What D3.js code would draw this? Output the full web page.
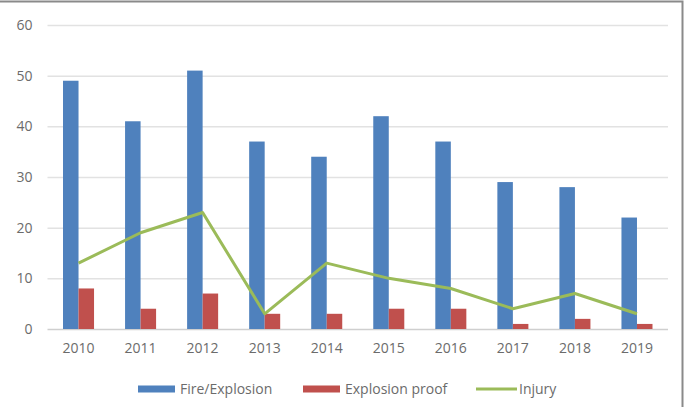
<!DOCTYPE html>
<html>
<head>
<meta charset="utf-8">
<script src="https://cdn.jsdelivr.net/npm/d3@7"></script>
<style>
  html, body { margin: 0; padding: 0; background: #fff; }
  svg text { font-family: "Open Sans", "Liberation Sans", sans-serif; fill: #6b6b6b; }
</style>
</head>
<body>
<svg id="chart" width="685" height="407"></svg>
<script>
const years = ['2010', '2011', '2012', '2013', '2014', '2015', '2016', '2017', '2018', '2019'];
const fireExplosion = [49, 41, 51, 37, 34, 42, 37, 29, 28, 22];
const explosionProof = [8, 4, 7, 3, 3, 4, 4, 1, 2, 1];
const injury = [13, 19, 23, 3, 13, 10, 8, 4, 7, 3];
const yTicks = [0, 10, 20, 30, 40, 50, 60];
const seriesNames = ['Fire/Explosion', 'Explosion proof', 'Injury'];

const colors = { fire: '#4f81bd', proof: '#c0504d', injury: '#9bbb59' };

const svg = d3.select('#chart');

// frame (top and right edges are visible in the picture)
svg.append('path')
  .attr('d', 'M0,1.5 H682.5 V407')
  .attr('fill', 'none')
  .attr('stroke', '#8a8a8a')
  .attr('stroke-width', 2);

/*********** scales ***********/
const x = d3.scaleBand()
  .domain(years)
  .range([47.5, 668])
  .padding(0);

const xs = d3.scaleBand()
  .domain(['fire', 'proof'])
  .range([0, x.bandwidth()])
  .paddingInner(0)
  .paddingOuter(1);

const y = d3.scaleLinear()
  .domain([0, 60])
  .range([329, 25]);

/*********** grid + y labels ***********/
const yAxis = svg.append('g')
  .attr('transform', 'translate(47.5,0)')
  .call(d3.axisLeft(y).tickValues(yTicks).tickSize(-(668 - 47.5)).tickPadding(15));
yAxis.select('.domain').remove();
yAxis.selectAll('.tick line')
  .attr('stroke', d => d === 0 ? '#cfcfcf' : '#e2e2e2')
  .attr('stroke-width', 1.5);
yAxis.selectAll('.tick text')
  .attr('font-size', 14)
  .style('font-family', '"Open Sans", "Liberation Sans", sans-serif')
  .attr('fill', '#6b6b6b');

/*********** x labels ***********/
const xAxis = svg.append('g')
  .attr('transform', `translate(0, ${y(0)})`)
  .call(d3.axisBottom(x).tickSize(0).tickPadding(14));
xAxis.select('.domain').remove();
xAxis.selectAll('.tick text')
  .attr('font-size', 14)
  .style('font-family', '"Open Sans", "Liberation Sans", sans-serif')
  .attr('fill', '#6b6b6b');

/*********** bars ***********/
const groups = svg.append('g').selectAll('g')
  .data(years)
  .join('g')
  .attr('transform', d => `translate(${x(d)},0)`);

groups.append('rect')
  .attr('x', xs('fire'))
  .attr('width', xs.bandwidth())
  .attr('y', (d, i) => y(fireExplosion[i]))
  .attr('height', (d, i) => y(0) - y(fireExplosion[i]))
  .attr('fill', colors.fire);

groups.append('rect')
  .attr('x', xs('proof'))
  .attr('width', xs.bandwidth())
  .attr('y', (d, i) => y(explosionProof[i]))
  .attr('height', (d, i) => y(0) - y(explosionProof[i]))
  .attr('fill', colors.proof);

/*********** injury line ***********/
const line = d3.line()
  .x((d, i) => x(years[i]) + x.bandwidth() / 2)
  .y(d => y(d));

svg.append('path')
  .datum(injury)
  .attr('d', line)
  .attr('fill', 'none')
  .attr('stroke', colors.injury)
  .attr('stroke-width', 3)
  .attr('stroke-linejoin', 'round');

/*********** legend ***********/
const legendY = 389;
const legendItems = [
  { name: seriesNames[0], color: colors.fire, type: 'rect', x: 138 },
  { name: seriesNames[1], color: colors.proof, type: 'rect', x: 303 },
  { name: seriesNames[2], color: colors.injury, type: 'line', x: 476 }
];

const legend = svg.append('g').selectAll('g')
  .data(legendItems)
  .join('g')
  .attr('transform', d => `translate(${d.x}, ${legendY})`);

legend.filter(d => d.type === 'rect').append('rect')
  .attr('x', 0).attr('y', -3.5)
  .attr('width', 37).attr('height', 7)
  .attr('fill', d => d.color);

legend.filter(d => d.type === 'line').append('line')
  .attr('x1', 0).attr('x2', 41)
  .attr('y1', 0).attr('y2', 0)
  .attr('stroke', d => d.color)
  .attr('stroke-width', 3);

legend.append('text')
  .attr('x', d => d.type === 'line' ? 43 : 42)
  .attr('y', 0)
  .attr('dy', '0.35em')
  .attr('font-size', 14)
  .text(d => d.name);
</script>
</body>
</html>
